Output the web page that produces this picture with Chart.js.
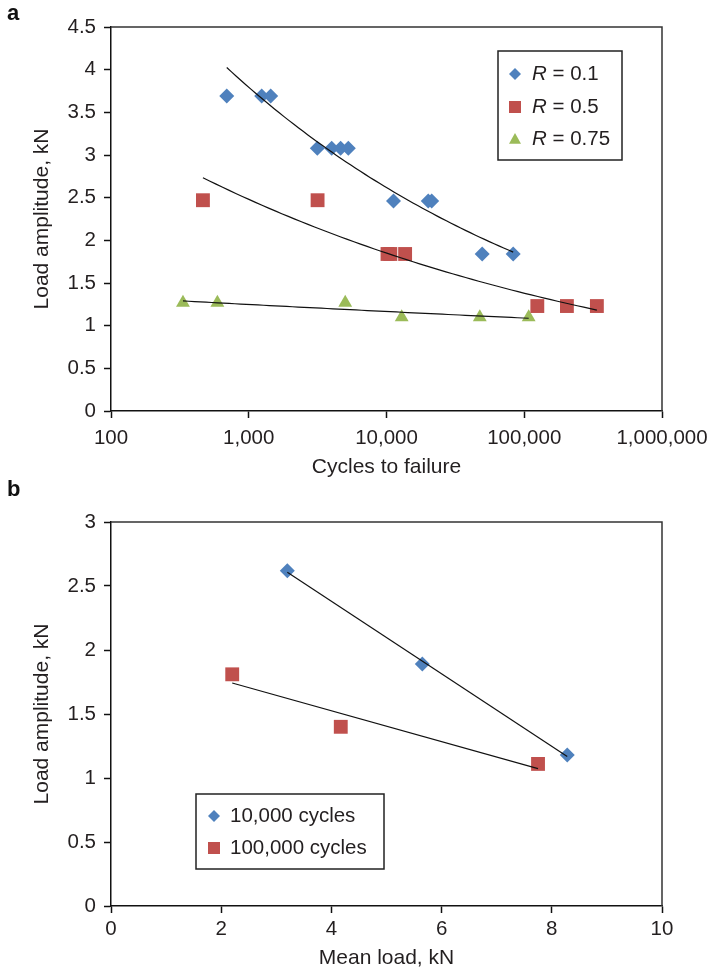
<!DOCTYPE html>
<html>
<head>
<meta charset="utf-8">
<title>Load amplitude vs cycles to failure and mean load</title>
<script src="https://cdn.jsdelivr.net/npm/chart.js@4.4.0/dist/chart.umd.min.js"></script>
<style>
  html, body { margin: 0; padding: 0; background: #fff; }
  body { width: 709px; height: 973px; position: relative; overflow: hidden; }
  canvas { position: absolute; left: 0; }
  .tag { position: absolute; left: 7px; z-index: 2; font: bold 22px/22px 'Liberation Sans', Arial, sans-serif; color: #111; }
</style>
</head>
<body>
<canvas id="chartA" width="709" height="486" style="top:0"></canvas>
<canvas id="chartB" width="709" height="487" style="top:486px"></canvas>
<div class="tag" style="top:2px">a</div>
<div class="tag" style="top:478px">b</div>
<script>
// ---- panel a: S-N data for three load ratios ----
const cyclesTicks = [100, 1000, 10000, 100000, 1000000];
const ampTicksA = [0, 0.5, 1, 1.5, 2, 2.5, 3, 3.5, 4, 4.5];
const loadRatios = ['0.1', '0.5', '0.75'];

const cyclesR01 = [692, 1242, 1443, 3146, 4000, 4647, 5284, 11240, 20100, 21290, 49520, 83120];
const ampR01 = [3.69, 3.69, 3.69, 3.08, 3.08, 3.08, 3.08, 2.46, 2.46, 2.46, 1.84, 1.84];

const cyclesR05 = [465, 3160, 10170, 10660, 13650, 124400, 204000, 336700];
const ampR05 = [2.47, 2.47, 1.84, 1.84, 1.84, 1.23, 1.23, 1.23];

const cyclesR075 = [333, 592, 5016, 12890, 47560, 107700];
const ampR075 = [1.27, 1.27, 1.27, 1.1, 1.1, 1.1];

// ---- panel b: amplitude vs mean load at two lives ----
const meanLoadTicks = [0, 2, 4, 6, 8, 10];
const ampTicksB = [0, 0.5, 1, 1.5, 2, 2.5, 3];

const mean10k = [3.2, 5.65, 8.28];
const amp10k = [2.62, 1.89, 1.18];

const mean100k = [2.2, 4.17, 7.75];
const amp100k = [1.81, 1.40, 1.11];

const BLUE = '#4f81bd';
const RED = '#c0504d';
const GREEN = '#9bbb59';
const INK = '#231f20';
const FONT = "'Liberation Sans', Arial, sans-serif";

function toPoints(xs, ys) {
    return xs.map((x, i) => ({ x: x, y: ys[i] }));
}

// least squares in log-log space, y = a * x^b
function powerFit(xs, ys) {
    const lx = xs.map(Math.log), ly = ys.map(Math.log);
    const n = xs.length;
    const mx = lx.reduce((s, v) => s + v, 0) / n;
    const my = ly.reduce((s, v) => s + v, 0) / n;
    let sxy = 0, sxx = 0;
    for (let i = 0; i < n; i++) {
        sxy += (lx[i] - mx) * (ly[i] - my);
        sxx += (lx[i] - mx) * (lx[i] - mx);
    }
    const b = sxy / sxx;
    const a = Math.exp(my - b * mx);
    return x => a * Math.pow(x, b);
}

function linearFit(xs, ys) {
    const n = xs.length;
    const mx = xs.reduce((s, v) => s + v, 0) / n;
    const my = ys.reduce((s, v) => s + v, 0) / n;
    let sxy = 0, sxx = 0;
    for (let i = 0; i < n; i++) {
        sxy += (xs[i] - mx) * (ys[i] - my);
        sxx += (xs[i] - mx) * (xs[i] - mx);
    }
    const b = sxy / sxx;
    return x => my + b * (x - mx);
}

// fitted curve evaluated across the data range (log spaced for the log axis)
function powerCurve(xs, ys, steps) {
    const fn = powerFit(xs, ys);
    const lo = Math.log10(Math.min(...xs));
    const hi = Math.log10(Math.max(...xs));
    const pts = [];
    for (let i = 0; i <= steps; i++) {
        const x = Math.pow(10, lo + (hi - lo) * i / steps);
        pts.push({ x: x, y: fn(x) });
    }
    return pts;
}

function linearLine(xs, ys) {
    const fn = linearFit(xs, ys);
    const lo = Math.min(...xs), hi = Math.max(...xs);
    return [{ x: lo, y: fn(lo) }, { x: hi, y: fn(hi) }];
}

function trendSet(points) {
    return {
        data: points,
        showLine: true,
        pointRadius: 0,
        borderColor: '#111',
        borderWidth: 1.2,
        fill: false,
        order: 0
    };
}

function markerSet(label, points, style, radius, color) {
    return {
        label: label,
        data: points,
        pointStyle: style,
        pointRadius: radius,
        backgroundColor: color,
        borderColor: color,
        borderWidth: 0,
        inBox: true,
        order: 1
    };
}

function drawMarker(ctx, style, x, y, r, color) {
    ctx.fillStyle = color;
    ctx.beginPath();
    if (style === 'rectRot') {
        ctx.moveTo(x, y - r);
        ctx.lineTo(x + r, y);
        ctx.lineTo(x, y + r);
        ctx.lineTo(x - r, y);
    } else if (style === 'triangle') {
        ctx.moveTo(x, y - r);
        ctx.lineTo(x + r, y + r * 0.8);
        ctx.lineTo(x - r, y + r * 0.8);
    } else {
        ctx.rect(x - r, y - r, 2 * r, 2 * r);
    }
    ctx.closePath();
    ctx.fill();
}

// boxed legend; an optional italic prefix (the "R" of the load ratio)
const boxLegend = {
    id: 'boxLegend',
    afterDatasetsDraw(chart, args, opts) {
        const ctx = chart.ctx;
        const sets = chart.data.datasets.filter(ds => ds.inBox);
        ctx.save();
        ctx.fillStyle = '#fff';
        ctx.fillRect(opts.left, opts.top, opts.width, opts.height);
        ctx.strokeStyle = '#222';
        ctx.lineWidth = 1.5;
        ctx.strokeRect(opts.left, opts.top, opts.width, opts.height);
        sets.forEach((ds, i) => {
            const y = opts.rows[i];
            drawMarker(ctx, ds.pointStyle, opts.markerX, y, opts.markerSize, ds.backgroundColor);
            ctx.fillStyle = INK;
            ctx.textBaseline = 'middle';
            ctx.textAlign = 'left';
            let x = opts.textX;
            if (ds.italicPrefix) {
                ctx.font = 'italic 20.5px ' + FONT;
                ctx.fillText(ds.italicPrefix, x, y);
                x += ctx.measureText(ds.italicPrefix).width;
            }
            ctx.font = '20.5px ' + FONT;
            ctx.fillText(ds.label, x, y);
        });
        ctx.restore();
    }
};

// top and right edges of the plot frame
const plotFrame = {
    id: 'plotFrame',
    beforeDatasetsDraw(chart) {
        const { ctx, chartArea } = chart;
        ctx.save();
        ctx.strokeStyle = '#333';
        ctx.lineWidth = 1.5;
        ctx.beginPath();
        ctx.moveTo(chartArea.left, chartArea.top);
        ctx.lineTo(chartArea.right, chartArea.top);
        ctx.lineTo(chartArea.right, chartArea.bottom);
        ctx.stroke();
        ctx.restore();
    }
};

function axisStyle(titleText, titlePadding) {
    return {
        border: { display: true, color: '#111', width: 1.5 },
        grid: { drawOnChartArea: false, drawTicks: true, tickLength: 7, tickWidth: 1.5, tickColor: '#111' },
        ticks: { color: INK, font: { family: FONT, size: 20.5 }, padding: 8, maxRotation: 0, autoSkip: false, callback: v => String(v) },
        title: { display: true, text: titleText, color: INK, font: { family: FONT, size: 21 }, padding: titlePadding }
    };
}

// fixed axis box sizes so the plot area sits where it should
function fixHeight(h) {
    return scale => { scale.height = h; scale.paddingLeft = 0; scale.paddingRight = 0; };
}
function fixWidth(w) {
    return scale => { scale.width = w; scale.paddingTop = 0; scale.paddingBottom = 0; };
}

const seriesR01 = markerSet(' = ' + loadRatios[0], toPoints(cyclesR01, ampR01), 'rectRot', 7.5, BLUE);
const seriesR05 = markerSet(' = ' + loadRatios[1], toPoints(cyclesR05, ampR05), 'rect', 9.8, RED);
const seriesR075 = markerSet(' = ' + loadRatios[2], toPoints(cyclesR075, ampR075), 'triangle', 8, GREEN);
[seriesR01, seriesR05, seriesR075].forEach(ds => { ds.italicPrefix = 'R'; });

const xA = axisStyle('Cycles to failure', { top: 0, bottom: 6 });
xA.type = 'logarithmic';
xA.min = cyclesTicks[0];
xA.max = cyclesTicks[cyclesTicks.length - 1];
xA.afterBuildTicks = scale => { scale.ticks = cyclesTicks.map(v => ({ value: v, major: true })); };
xA.ticks.callback = value => Number(value).toLocaleString('en-US');
xA.afterFit = fixHeight(75);

const yA = axisStyle('Load amplitude, kN', { top: 30, bottom: 0 });
yA.min = ampTicksA[0];
yA.max = ampTicksA[ampTicksA.length - 1];
yA.afterBuildTicks = scale => { scale.ticks = ampTicksA.map(v => ({ value: v })); };
yA.afterFit = fixWidth(111);

new Chart(document.getElementById('chartA'), {
    type: 'scatter',
    data: {
        datasets: [
            trendSet(powerCurve(cyclesR01, ampR01, 60)),
            trendSet(powerCurve(cyclesR05, ampR05, 60)),
            trendSet(powerCurve(cyclesR075, ampR075, 60)),
            seriesR01, seriesR05, seriesR075
        ]
    },
    options: {
        responsive: false,
        animation: false,
        layout: { padding: { left: 0, top: 27, right: 47, bottom: 0 } },
        plugins: {
            legend: { display: false },
            tooltip: { enabled: false },
            boxLegend: { left: 498, top: 51, width: 124, height: 109, rows: [74, 107, 139], markerX: 515, markerSize: 6, textX: 532 }
        },
        scales: { x: xA, y: yA }
    },
    plugins: [plotFrame, boxLegend]
});

const xB = axisStyle('Mean load, kN', { top: 0, bottom: 2 });
xB.min = meanLoadTicks[0];
xB.max = meanLoadTicks[meanLoadTicks.length - 1];
xB.ticks.padding = 4;
xB.afterBuildTicks = scale => { scale.ticks = meanLoadTicks.map(v => ({ value: v })); };
xB.afterFit = fixHeight(67);

const yB = axisStyle('Load amplitude, kN', { top: 30, bottom: 0 });
yB.min = ampTicksB[0];
yB.max = ampTicksB[ampTicksB.length - 1];
yB.afterBuildTicks = scale => { scale.ticks = ampTicksB.map(v => ({ value: v })); };
yB.afterFit = fixWidth(111);

new Chart(document.getElementById('chartB'), {
    type: 'scatter',
    data: {
        datasets: [
            trendSet(linearLine(mean10k, amp10k)),
            trendSet(linearLine(mean100k, amp100k)),
            markerSet('10,000 cycles', toPoints(mean10k, amp10k), 'rectRot', 7.5, BLUE),
            markerSet('100,000 cycles', toPoints(mean100k, amp100k), 'rect', 9.8, RED)
        ]
    },
    options: {
        responsive: false,
        animation: false,
        layout: { padding: { left: 0, top: 36, right: 47, bottom: 0 } },
        plugins: {
            legend: { display: false },
            tooltip: { enabled: false },
            boxLegend: { left: 196, top: 308, width: 188, height: 75, rows: [330, 362], markerX: 214, markerSize: 6, textX: 230 }
        },
        scales: { x: xB, y: yB }
    },
    plugins: [plotFrame, boxLegend]
});
</script>
</body>
</html>
